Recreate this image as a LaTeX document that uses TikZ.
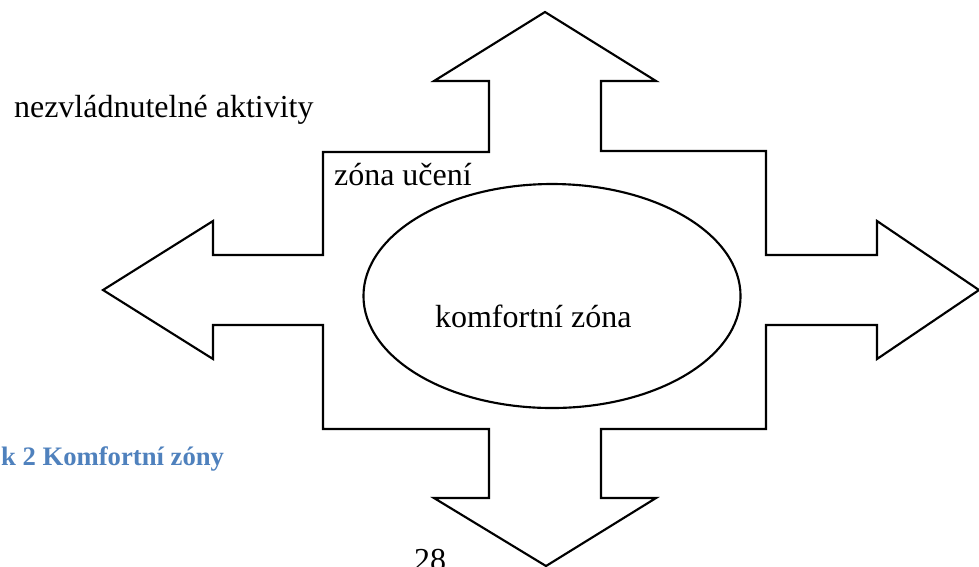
\documentclass[tikz,border=0pt]{standalone}
\usepackage{fontspec}
\setmainfont{Liberation Serif}
\usetikzlibrary{shapes.geometric}
\definecolor{captionblue}{HTML}{4F81BD}
\begin{document}
\begin{tikzpicture}[x=0.375pt, y=-0.375pt, line width=0.8pt,
  label/.style={inner sep=0pt, anchor=base west, font=\fontsize{12pt}{14pt}\selectfont}]
\useasboundingbox (0,0) rectangle (979,566);
\clip (0,0) rectangle (979,566);
% the four arrows as one outline
\draw (545,12) -- (656,81) -- (601,81) -- (601,151) -- (766,151) -- (766,255)
  -- (877,255) -- (877,221) -- (979,290) -- (877,359) -- (877,325) -- (766,325)
  -- (766,429) -- (601,429) -- (601,498) -- (656,498) -- (546,566) -- (434,498)
  -- (489,498) -- (489,429) -- (323,429) -- (323,325) -- (213,325) -- (213,359)
  -- (103,290) -- (213,221) -- (213,255) -- (323,255) -- (323,152) -- (489,152)
  -- (489,81) -- (434,81) -- cycle;
\node[draw, ellipse, minimum width=141.4pt, minimum height=84pt] (komfort) at (552,296) {};
\node[label] (komforttext) at (434,327) {komfortní zóna};
\node[label] (uceni) at (333,185) {zóna učení};
\node[label] (nezvladnutelne) at (13,117) {nezvládnutelné aktivity};
\node[label, font=\fontsize{10pt}{12pt}\selectfont\bfseries, text=captionblue] (popisek) at (0,465) {k 2 Komfortní zóny};
\node[label] (strana) at (413,570) {28};
\end{tikzpicture}
\end{document}
